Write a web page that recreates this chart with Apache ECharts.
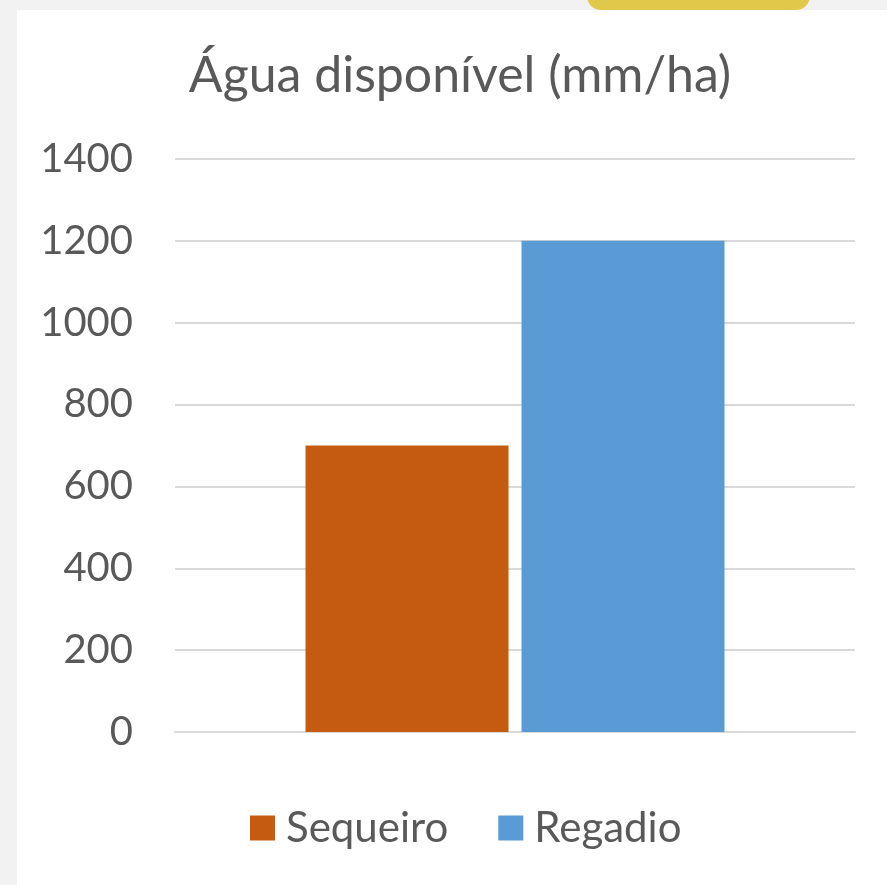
<!DOCTYPE html>
<html><head><meta charset="utf-8">
<script src="https://cdn.jsdelivr.net/npm/echarts@6/dist/echarts.min.js"></script>
<style>html,body{margin:0;padding:0;background:#f2f2f2;}#c{width:887px;height:885px;}</style>
</head><body><div id="c"></div>
<script>
const titleText = 'Água disponível (mm/ha)';
const categories = ['Água disponível'];
const seriesNames = ['Sequeiro', 'Regadio'];
const sequeiroValues = [700];
const regadioValues = [1200];
const yTicks = [0, 200, 400, 600, 800, 1000, 1200, 1400];

const chart = echarts.init(document.getElementById('c'), null, {renderer: 'canvas'});
const FONT = 'Lato';
chart.setOption({
  backgroundColor: '#f2f2f2',
  animation: false,
  graphic: [
    {type: 'rect', z: -10, shape: {x: 587, y: -20, width: 223, height: 30, r: 14}, style: {fill: '#e2c84a'}},
    {type: 'rect', z: -5, shape: {x: 17, y: 10, width: 870, height: 875}, style: {fill: '#ffffff'}}
  ],
  title: {
    text: titleText, left: 455, top: 46, textAlign: 'center',
    textStyle: {fontFamily: FONT, fontSize: 50, fontWeight: 'normal', color: '#595959'}
  },
  legend: {
    data: seriesNames, left: 250, top: 807, itemWidth: 25, itemHeight: 25, itemGap: 50,
    icon: 'rect', padding: 0,
    textStyle: {fontFamily: FONT, fontSize: 42, color: '#595959', padding: [0, 0, 0, 6]}
  },
  grid: {left: 175, right: 32, top: 159, bottom: 153, containLabel: false},
  xAxis: {
    type: 'category', data: categories,
    axisLine: {show: true, lineStyle: {color: '#d9d9d9', width: 2}},
    axisTick: {show: false}, axisLabel: {show: false}
  },
  yAxis: {
    type: 'value', min: yTicks[0], max: yTicks[yTicks.length - 1], interval: 200,
    axisLine: {show: false}, axisTick: {show: false},
    axisLabel: {fontFamily: FONT, fontSize: 40, color: '#595959', margin: 42, formatter: v => String(v)},
    splitLine: {lineStyle: {color: '#d9d9d9', width: 2}}
  },
  series: [
    {name: seriesNames[0], type: 'bar', data: sequeiroValues, barWidth: 203, barGap: '6.4%', itemStyle: {color: '#c55a11'}},
    {name: seriesNames[1], type: 'bar', data: regadioValues, barWidth: 203, itemStyle: {color: '#5b9bd5'}}
  ]
});
</script></body></html>
